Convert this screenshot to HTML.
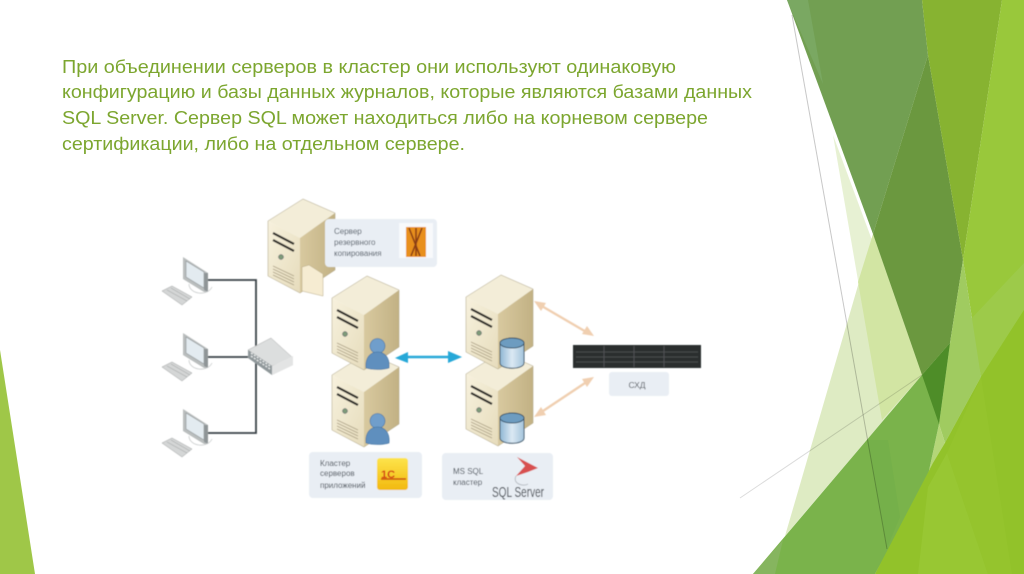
<!DOCTYPE html>
<html lang="ru">
<head>
<meta charset="utf-8">
<title>Кластер серверов</title>
<style>
html,body{margin:0;padding:0;background:#fff;width:1024px;height:574px;overflow:hidden}
svg{display:block}
text{font-family:"Liberation Sans","DejaVu Sans",sans-serif}
</style>
</head>
<body>
<svg xmlns="http://www.w3.org/2000/svg" width="1024" height="574" viewBox="0 0 1024 574">
<defs>
<linearGradient id="fr" x1="0" y1="0" x2="1" y2="1"><stop offset="0" stop-color="#f7f1dd"/><stop offset="1" stop-color="#e6dcbc"/></linearGradient>
<linearGradient id="sd" x1="0" y1="0" x2="1" y2="0"><stop offset="0" stop-color="#d8c99f"/><stop offset="1" stop-color="#c2b184"/></linearGradient>
<linearGradient id="cy" x1="0" y1="0" x2="1" y2="0"><stop offset="0" stop-color="#8fb6d4"/><stop offset=".5" stop-color="#dbe9f3"/><stop offset="1" stop-color="#a4c4dc"/></linearGradient>
<linearGradient id="yl" x1="0" y1="0" x2="0" y2="1"><stop offset="0" stop-color="#fde44b"/><stop offset="1" stop-color="#f2b90f"/></linearGradient>
<filter id="b" x="-5%" y="-5%" width="110%" height="110%"><feGaussianBlur stdDeviation=".45"/></filter>
<g id="srv">
<polygon points="0,22 35,0 67,14 32,39" fill="#f3edd8"/>
<polygon points="0,22 32,39 32,94 0,77" fill="url(#fr)"/>
<polygon points="32,39 67,14 67,71 32,94" fill="url(#sd)"/>
<path d="M0,22 L35,0 L67,14 L67,71 L32,94 L0,77Z" fill="none" stroke="#a89d7c" stroke-width=".5"/>
<path d="M5,34 L26,45 M5,41 L26,52" stroke="#2c2a25" stroke-width="2.2"/>
<circle cx="13" cy="58" r="2.5" fill="#7d9a78" stroke="#556" stroke-width=".5"/>
<path d="M5,67 L26,77 M5,70 L26,80 M5,73 L26,83 M5,76 L26,86" stroke="#a89d80" stroke-width=".7"/>
</g>
<g id="usr">
<circle cx="12.5" cy="8" r="7.5" fill="#6f9ecb" stroke="#3f6f9c" stroke-width=".6"/>
<path d="M1,30 C0,20 5,14 12.5,14 C20,14 25,20 24,30 C18,32 7,32 1,30Z" fill="#5f8fbe" stroke="#3f6f9c" stroke-width=".6"/>
</g>
<g id="cyl">
<path d="M0,5 V25 C0,32 24,32 24,25 V5Z" fill="url(#cy)" stroke="#2f4b60" stroke-width=".9"/>
<ellipse cx="12" cy="5" rx="12" ry="5" fill="#6d9cc0" stroke="#2f4b60" stroke-width=".9"/>
</g>
<g id="pc">
<polygon points="0,0 25,16 25,35 21,35 0,22" fill="#b9bdbd"/>
<polygon points="3,4 21,15 21,31 3,20" fill="#e3ebf0" stroke="#8d9294" stroke-width=".6"/>
<polygon points="21,16 25,16 25,35 21,33" fill="#8f9597"/>
<path d="M6,27 C6,37 24,40 29,30" fill="none" stroke="#c9cccc" stroke-width=".8"/>
<polygon points="-21,34 -11,29 9,40 -1,48" fill="#d4d6d6" stroke="#9a9d9d" stroke-width=".5"/>
<path d="M-16,33 L4,44 M-12,31 L7,42" stroke="#a6a9a9" stroke-width=".6"/>
</g>
</defs>

<!-- background facets -->
<polygon points="0,350 0,574 35,574" fill="#9fc748"/>
<polygon points="833,135 882,420 922,375" fill="#e7f1d3"/>
<polygon points="873,234 922,375 785,536" fill="#deebc3"/>
<polygon points="873,234 922,375 882,420 858,282" fill="#d2e5a3"/>
<polygon points="787,0 922,0 928,55 873,234" fill="#729f52"/>
<polygon points="787,0 808,0 823,84" fill="#7aa862"/>
<polygon points="928,55 963,260 950,343 922,375 873,234" fill="#6b983f"/>
<polygon points="922,0 1002,0 963,260 928,55" fill="#87b331"/>
<polygon points="1002,0 1024,0 1024,574 934,463 981,377 963,260" fill="#99c83b"/>
<polygon points="970,320 1024,263 1024,310 981,377" fill="#9dca4a"/>
<polygon points="963,260 981,377 945,443 939,424 950,343" fill="#a0cb60"/>
<polygon points="939,424 945,443 927,480" fill="#b4d678"/>
<polygon points="922,375 950,343 939,424 927,480 875,574 753,574" fill="#7ab34b"/>
<polygon points="867,440 888,440 900,517 887,548" fill="#75b04a"/>
<polygon points="753,574 775,574 783,540" fill="#86b55f"/>
<polygon points="950,343 939,424 922,375" fill="#4e8d28"/>
<polygon points="945,443 981,377 1024,310 1024,574 875,574 933,463" fill="#92c22a"/>
<polygon points="928,487 947,453 988,574 918,574" fill="#98c733"/>
<polygon points="947,453 981,377 1012,574 988,574" fill="#95c42d"/>
<line x1="792" y1="15" x2="887" y2="549" stroke="#000" stroke-opacity=".22" stroke-width="1"/>
<line x1="740" y1="498" x2="922" y2="375" stroke="#000" stroke-opacity=".14" stroke-width="1"/>

<!-- heading -->
<g font-size="18" fill="#7ca62f">
<text x="62" y="73" textLength="614" lengthAdjust="spacingAndGlyphs">При объединении серверов в кластер они используют одинаковую</text>
<text x="62" y="98" textLength="690" lengthAdjust="spacingAndGlyphs">конфигурацию и базы данных журналов, которые являются базами данных</text>
<text x="62" y="124" textLength="646" lengthAdjust="spacingAndGlyphs">SQL Server. Сервер SQL может находиться либо на корневом сервере</text>
<text x="62" y="150" textLength="403" lengthAdjust="spacingAndGlyphs">сертификации, либо на отдельном сервере.</text>
</g>

<!-- diagram -->
<g filter="url(#b)">
<path d="M208,280 H256 V433 H208 M208,357 H252" fill="none" stroke="#3a4247" stroke-width="1.8"/>
<use href="#pc" x="183" y="257"/>
<use href="#pc" x="183" y="333"/>
<use href="#pc" x="183" y="409"/>
<polygon points="248,350 271,338 293,358 293,365 272,375 248,356" fill="#c8cacb"/>
<polygon points="248,350 271,338 293,358 272,366" fill="#dcdede" stroke="#999" stroke-width=".4"/>
<polygon points="248,350 272,366 272,375 248,358" fill="#8f979a"/>
<polygon points="272,366 293,356 293,365 272,375" fill="#e3e4e4"/>
<path d="M251,353 L270,366 M251,356 L270,369" stroke="#e8eaea" stroke-width="1.4" stroke-dasharray="2 1.5"/>

<use href="#srv" x="268" y="199"/>
<rect x="325" y="219" width="112" height="48" rx="4" fill="#e9eef4"/>
<rect x="399" y="223" width="34" height="35" fill="#f8f9fb"/>
<rect x="406" y="227" width="20" height="30" fill="#e88f1c"/>
<path d="M409,228 L420,256 M422,228 L411,256 M416,228 V256" stroke="#8b3c12" stroke-width="1.6"/>
<polygon points="302,267 309,265 323,274 323,296 302,291" fill="#f6ecd2" stroke="#b6a984" stroke-width=".5"/>
<g font-size="8" fill="#4a5560">
<text x="334" y="234">Сервер</text>
<text x="334" y="245">резервного</text>
<text x="334" y="256">копирования</text>
</g>

<use href="#srv" x="332" y="353"/>
<use href="#usr" x="365" y="413"/>
<use href="#srv" x="332" y="276"/>
<use href="#usr" x="365" y="338"/>
<use href="#srv" x="466" y="352"/>
<use href="#cyl" x="500" y="413"/>
<use href="#srv" x="466" y="275"/>
<use href="#cyl" x="500" y="338"/>

<path d="M404,357 H452" stroke="#27a8d8" stroke-width="2.5"/>
<polygon points="395,358 408,352 408,363" fill="#27a8d8"/>
<polygon points="462,357 448,351 448,363" fill="#27a8d8"/>

<g stroke="#f0cfb0" stroke-width="2.4" fill="#f0cfb0">
<line x1="540" y1="305" x2="588" y2="333"/>
<line x1="540" y1="413" x2="588" y2="381"/>
</g>
<polygon points="534,301 546,303 541,311" fill="#f0cfb0"/>
<polygon points="594,336 582,334 587,326" fill="#f0cfb0"/>
<polygon points="534,417 541,407 546,415" fill="#f0cfb0"/>
<polygon points="594,377 587,387 582,379" fill="#f0cfb0"/>

<rect x="573" y="345" width="128" height="23" fill="#2b2d2e"/>
<path d="M604,346 V367 M634,346 V367 M664,346 V367 M576,352 H698 M576,357 H698 M576,362 H698" stroke="#54585a" stroke-width=".8"/>
<rect x="609" y="372" width="60" height="24" rx="3" fill="#e9eef4"/>
<text x="637" y="388" font-size="8.5" fill="#4a5056" text-anchor="middle">СХД</text>

<rect x="309" y="452" width="113" height="46" rx="4" fill="#e9eef4"/>
<g font-size="8" fill="#3d4650">
<text x="320" y="466">Кластер</text>
<text x="320" y="476">серверов</text>
<text x="320" y="488">приложений</text>
</g>
<rect x="377" y="458" width="31" height="32" rx="3" fill="url(#yl)"/>
<text x="381" y="478" font-size="11" font-weight="bold" fill="#d23a12">1С</text>
<path d="M381,479 H406" stroke="#c9430f" stroke-width="1.5"/>

<rect x="442" y="453" width="111" height="47" rx="4" fill="#e9eef4"/>
<g font-size="8" fill="#3d4650">
<text x="453" y="474">MS SQL</text>
<text x="453" y="485">кластер</text>
</g>
<polygon points="517,457 538,468 528,472 516,476 525,466" fill="#d8504f"/>
<path d="M516,476 C512,484 524,487 528,484" fill="none" stroke="#b8bec4" stroke-width="1"/>
<text x="492" y="497" font-size="15" fill="#3a4148" textLength="52" lengthAdjust="spacingAndGlyphs">SQL Server</text>
</g>
</svg>
</body>
</html>
